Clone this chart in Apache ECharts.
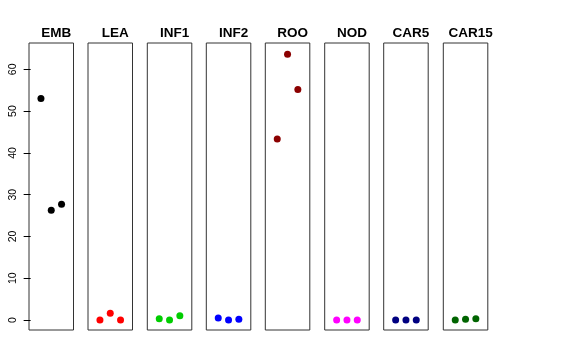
<!DOCTYPE html>
<html><head><meta charset="utf-8">
<script src="https://cdn.jsdelivr.net/npm/echarts@6/dist/echarts.min.js"></script>
<style>html,body{margin:0;padding:0;background:#fff}#c{width:576px;height:360px}</style>
</head><body><div id="c"></div>
<script>
const categories = ['EMB','LEA','INF1','INF2','ROO','NOD','CAR5','CAR15'];
const positions = [1, 2, 3];
const EMB = [53.0, 26.3, 27.7];
const LEA = [0.0, 1.6, 0.0];
const INF1 = [0.3, 0.0, 1.0];
const INF2 = [0.5, 0.0, 0.2];
const ROO = [43.3, 63.6, 55.2];
const NOD = [0.0, 0.0, 0.0];
const CAR5 = [0.0, 0.0, 0.0];
const CAR15 = [0.0, 0.2, 0.3];
const yTicks = [0, 10, 20, 30, 40, 50, 60];
const seriesValues = [EMB, LEA, INF1, INF2, ROO, NOD, CAR5, CAR15];

const colors = ['#000000','#ff0000','#00cd00','#0000ff','#8b0000','#ff00ff','#000080','#006400'];
const panelLeft = [29, 88, 147.3, 206.3, 265.3, 324.7, 383.7, 443.3];
const panelW = 44.5, panelTop = 43, panelH = 287;
const yMin = -2.39, yMax = 66.3;

const grid = [], xAxis = [], yAxis = [], series = [], title = [];
categories.forEach((cat, i) => {
  grid.push({left: panelLeft[i], top: panelTop, width: panelW, height: panelH,
    show: true, borderColor: '#333', borderWidth: 1, backgroundColor: 'transparent'});
  xAxis.push({type: 'value', gridIndex: i, min: -0.16, max: 4.16, show: false});
  const first = i === 0;
  yAxis.push({type: 'value', gridIndex: i, min: yMin, max: yMax, show: first,
    splitLine: {show: false},
    axisLine: {show: false},
    axisTick: first ? {show: true, length: 7, lineStyle: {color: '#000'}, customValues: yTicks} : {show: false},
    axisLabel: first ? {show: true, rotate: 90, margin: 10, fontSize: 10.5, color: '#000',
      fontFamily: 'Liberation Sans, Arial, sans-serif', customValues: yTicks} : {show: false}
  });
  series.push({type: 'scatter', xAxisIndex: i, yAxisIndex: i, symbol: 'circle', symbolSize: 7,
    itemStyle: {color: colors[i], opacity: 1}, silent: true,
    data: positions.map((p, k) => [p, seriesValues[i][k]])});
  title.push({text: cat, left: panelLeft[i] + panelW / 2, top: 21, textAlign: 'center',
    textStyle: {fontSize: 13.5, fontWeight: 'bold', color: '#000', fontFamily: 'Liberation Sans, Arial, sans-serif'}});
});

const chart = echarts.init(document.getElementById('c'), null, {renderer: 'canvas'});
chart.setOption({animation: false, backgroundColor: '#fff', title, grid, xAxis, yAxis, series});
</script></body></html>
